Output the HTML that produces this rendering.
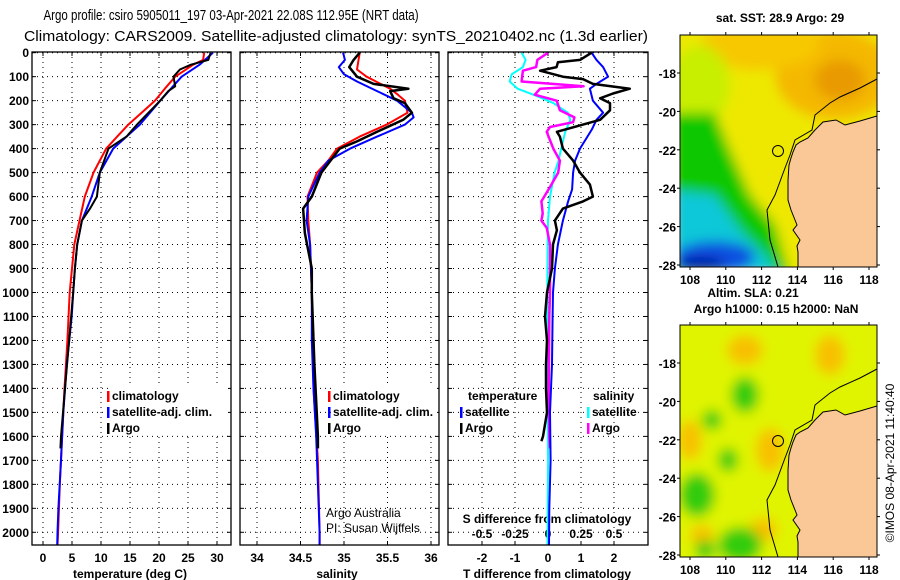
<!DOCTYPE html>
<html><head><meta charset="utf-8">
<style>
html,body{margin:0;padding:0;background:#fff;}
svg{display:block;font-family:"Liberation Sans",sans-serif;}
.b{font-weight:bold;font-size:12px;}
.n{font-size:12px;}
</style></head>
<body>
<svg id="chart" width="900" height="580" viewBox="0 0 900 580" xmlns="http://www.w3.org/2000/svg">
<text transform="translate(231,20) scale(0.77,1)" x="0" y="0" font-size="15" text-anchor="middle">Argo profile: csiro 5905011_197 03-Apr-2021 22.08S 112.95E (NRT data)</text>
<text x="336" y="41" font-size="15" text-anchor="middle" textLength="624" lengthAdjust="spacingAndGlyphs">Climatology: CARS2009. Satellite-adjusted climatology: synTS_20210402.nc (1.3d earlier)</text>
<g id="plots"></g>
<g id="maps"></g>
</svg>
<script>
// ---------- data ----------
const depthTicks=[0,100,200,300,400,500,600,700,800,900,1000,1100,1200,1300,1400,1500,1600,1700,1800,1900,2000];
const tempTicks=[0,5,10,15,20,25,30];
const salTicks=[34,34.5,35,35.5,36];
const salTickLabels=["34","34.5","35","35.5","36"];
const dTTicks=[-2,-1,0,1,2];
const dSTicks=[-0.5,-0.25,0,0.25,0.5];
const dSTickLabels=["-0.5","-0.25","0","0.25","0.5"];

const climTDepth=[0,30,50,100,150,200,250,300,350,400,450,500,600,700,800,900,1000,1200,1400,1600,1800,2000,2055];
const climT=[27.8,27.6,25.9,22.8,21,19.3,17,14.7,12.8,10.9,9.8,8.7,7.2,6.3,5.4,5.0,4.6,4.2,3.7,3.3,2.9,2.6,2.5];
const satTDepth=[0,50,100,200,300,400,500,600,700,800,900,1000,1100,1300,1500,1700,1900,2000,2055];
const satT=[29.3,27,23.9,20.2,16.7,12.1,9.8,8.4,6.7,5.9,5.5,5.2,4.95,4.1,3.5,3.1,2.65,2.5,2.45];
const argoTDepth=[0,30,50,70,100,140,160,200,300,350,400,500,600,650,700,800,900,1000,1200,1400,1600,1650];
const argoT=[28.9,28.5,25.5,23.6,22.5,22.8,21.6,20.2,16.2,14.4,11.3,9.8,9.3,8.1,6.7,5.9,5.5,5.2,4.5,3.8,3.1,3.0];

const climSDepth=[0,70,100,150,175,200,250,300,350,400,450,500,600,700,800,1000,1400,1700,2000,2055];
const climS=[35.18,35.15,35.26,35.53,35.62,35.70,35.73,35.49,35.18,34.92,34.82,34.69,34.58,34.59,34.61,34.63,34.65,34.70,34.72,34.72];
const satSDepth=[0,30,60,90,120,160,200,250,270,300,350,400,450,500,600,700,800,1000,1200,1400,1600,1800,2000,2055];
const satS=[34.99,35.01,34.94,35.0,35.15,35.38,35.61,35.78,35.80,35.70,35.38,35.07,34.82,34.72,34.59,34.57,34.61,34.63,34.63,34.65,34.68,34.70,34.72,34.72];
const argoSDepth=[0,30,60,100,130,150,160,190,210,250,280,330,370,400,500,600,650,700,750,790,900,1000,1300,1600,1650];
const argoS=[35.18,35.11,35.06,35.15,35.34,35.74,35.53,35.57,35.70,35.78,35.68,35.38,35.15,34.95,34.74,34.63,34.53,34.54,34.55,34.57,34.63,34.63,34.66,34.70,34.70];

const dTArgoDepth=[0,30,40,60,75,100,110,130,150,170,190,210,240,280,300,330,350,400,450,500,550,600,620,650,700,740,800,900,1000,1100,1200,1300,1400,1500,1600,1620];
const dTArgo=[1.32,0.97,0.3,0.26,-0.24,0.45,1.06,1.36,2.48,1.97,1.58,1.88,1.88,1.58,1.06,0.27,0.36,0.45,0.76,0.97,1.27,1.36,1.06,0.45,0.21,0.27,0.15,0.12,-0.03,-0.09,-0.03,-0.06,-0.06,-0.03,-0.15,-0.2];
const dTSatDepth=[0,30,60,100,130,150,200,250,280,320,400,450,500,570,620,700,800,900,1000,1100,1300,1500,1700,1900,2055];
const dTSat=[1.32,1.47,1.67,1.82,1.47,1.27,1.36,1.67,1.47,1.33,0.97,0.82,0.76,0.73,0.61,0.45,0.30,0.21,0.15,0.14,0.12,0.06,0.08,0.04,0.03];
const dSSatDepth=[0,30,60,90,120,150,180,210,250,280,330,400,450,500,600,700,800,1000,1500,1700,2055];
const dSSat=[-0.2,-0.17,-0.19,-0.275,-0.29,-0.23,-0.086,0.04,0.15,0.17,0.13,0.10,0.08,0.05,0.015,0.0,-0.003,-0.005,-0.002,0.001,-0.004];
const dSArgoDepth=[0,30,60,75,120,140,150,175,200,240,270,290,310,330,400,450,500,560,620,670,700,730,800,1000,1100,1400,1600,1650];
const dSArgo=[0.0,-0.08,-0.09,-0.19,-0.2,0.27,-0.06,-0.1,0.066,0.09,0.2,0.19,0.015,-0.01,0.04,0.09,0.077,0.015,-0.05,-0.04,-0.05,-0.01,0.015,0.015,0.01,0.005,0.01,0.015];

// ---------- axes ----------
const Y0=52.7, PXM=0.2398;
const yD=d=>Y0+d*PXM;
const xT=t=>43+t*5.8;
const xS=s=>257+(s-34)*87;
const xDT=v=>548+v*33;
const xDS=v=>548+v*132;
const TOP=52, BOT=545;
const panels=[{l:32,r:231},{l:240,r:439},{l:448,r:648}];
const NS="http://www.w3.org/2000/svg";
const plots=document.getElementById('plots');
function mk(tag,attrs,parent){const e=document.createElementNS(NS,tag);for(const k in attrs)e.setAttribute(k,attrs[k]);(parent||plots).appendChild(e);return e;}
function txt(s,x,y,cls,anchor,parent){const t=mk('text',{x:x,y:y,'class':cls||'b','text-anchor':anchor||'middle'},parent);t.textContent=s;return t;}

panels.forEach((p,i)=>{
  const g=mk('g',{});
  
  
  depthTicks.forEach(d=>{
    mk('line',{x1:p.l,x2:p.r,y1:yD(d),y2:yD(d),stroke:'#000','stroke-width':1,'stroke-dasharray':'1,4'},g);
    mk('line',{x1:p.l,x2:p.l+4,y1:yD(d),y2:yD(d),stroke:'#000'},g);
    mk('line',{x1:p.r-4,x2:p.r,y1:yD(d),y2:yD(d),stroke:'#000'},g);
  });
  const xs = i===0?tempTicks.map(xT):i===1?salTicks.map(xS):dTTicks.map(xDT);
  xs.forEach(x=>{
    mk('line',{x1:x,x2:x,y1:TOP,y2:BOT,stroke:'#000','stroke-width':1,'stroke-dasharray':'1,4'},g);
    mk('line',{x1:x,x2:x,y1:TOP,y2:TOP+4,stroke:'#000'},g);
    mk('line',{x1:x,x2:x,y1:BOT-4,y2:BOT,stroke:'#000'},g);
  });
});
depthTicks.forEach(d=>{
  const t=txt(String(d),29,yD(d)+4.5,'b','end');
  
  
});
tempTicks.forEach(v=>{const t=txt(String(v),xT(v),562);
  
  });
salTicks.forEach((v,i)=>{const t=txt(salTickLabels[i],xS(v),562);
  
  });
dTTicks.forEach(v=>{const t=txt(String(v),xDT(v),562);
  
  });
dSTicks.forEach((v,i)=>{const t=txt(dSTickLabels[i],xDS(v),538);
  
  });
let at;
at=txt('temperature (deg C)',130,578);


at=txt('salinity',337,578);


at=txt('T difference from climatology',547,578);


at=txt('S difference from climatology',547,523);



function series(depths,vals,xf,color,name,w,clipId){
  const pts=depths.map((d,i)=>xf(vals[i]).toFixed(1)+','+yD(d).toFixed(1)).join(' ');
  const pl=mk('polyline',{points:pts,fill:'none',stroke:color,'stroke-width':w||2,'stroke-linejoin':'round','clip-path':'url(#'+clipId+')'});
  
  
}
const defs=mk('defs',{});
panels.forEach((p,i)=>{const c=mk('clipPath',{id:'clip'+i},defs);mk('rect',{x:p.l,y:TOP,width:p.r-p.l,height:BOT-TOP},c);});
series(climTDepth,climT,xT,'#ff0000','temperature-climatology-line',2,'clip0');
series(satTDepth,satT,xT,'#0000ff','temperature-satellite-line',2,'clip0');
series(argoTDepth,argoT,xT,'#000','temperature-argo-line',2,'clip0');
series(climSDepth,climS,xS,'#ff0000','salinity-climatology-line',2,'clip1');
series(satSDepth,satS,xS,'#0000ff','salinity-satellite-line',2,'clip1');
series(argoSDepth,argoS,xS,'#000','salinity-argo-line',2.5,'clip1');
series(dSSatDepth,dSSat,xDS,'#00ffff','s-diff-satellite-line',2,'clip2');
series(dSArgoDepth,dSArgo,xDS,'#ff00ff','s-diff-argo-line',2.5,'clip2');
series(dTSatDepth,dTSat,xDT,'#0000ff','t-diff-satellite-line',2,'clip2');
series(dTArgoDepth,dTArgo,xDT,'#000','t-diff-argo-line',2.5,'clip2');

panels.forEach((p,i)=>{const r=mk('rect',{x:p.l,y:TOP,width:p.r-p.l,height:BOT-TOP,fill:'none',stroke:'#000','stroke-width':1.3});
  
  });

function legItem(x,y,color,label,name){
  const g=mk('g',{});
  
  
  mk('rect',{x:x,y:y-9,width:2.5,height:11,fill:color},g);
  txt(label,x+5,y,'b','start',g);
}
function bg(x,y,w,h){mk('rect',{x:x,y:y,width:w,height:h,fill:'#fff'});}
bg(110,385,118,48);
legItem(107,400,'#ff0000','climatology','legend-climatology');
legItem(107,416,'#0000ff','satellite-adj. clim.','legend-satellite-adj');
legItem(107,432,'#000','Argo','legend-argo');
bg(332,385,105,48);
legItem(328,400,'#ff0000','climatology','legend-sal-climatology');
legItem(328,416,'#0000ff','satellite-adj. clim.','legend-sal-satellite-adj');
legItem(328,432,'#000','Argo','legend-sal-argo');
at=txt('temperature',468,400,'b','start');


at=txt('salinity',593,400,'b','start');


legItem(460,416,'#0000ff','satellite','legend-t-satellite');
legItem(460,432,'#000','Argo','legend-t-argo');
legItem(587,416,'#00ffff','satellite','legend-s-satellite');
legItem(587,432,'#ff00ff','Argo','legend-s-argo');
at=txt('Argo Australia',326,517,'n','start');


at=txt('PI: Susan Wijffels',326,532,'n','start');



// ---------- maps ----------
const maps=document.getElementById('maps');
const latTicks=[-18,-20,-22,-24,-26,-28];
const lonTicks=[108,110,112,114,116,118];
const MX0=680,MX1=877;
const xLon=lon=>690+(lon-108)*17.9;
const coast=[[877,116],[860,121],[845,125],[836,120],[823,122],[815,130],[808,138],[800,142],[796,145],[793,152],[791,158],[789,165],[788,180],[788,200],[791,210],[795,220],[797,225],[793,230],[800,240],[797,246],[798,252],[798,267]];
const contour=[[877,79],[860,88],[840,97],[830,103],[815,115],[812,130],[795,140],[790,155],[785,168],[775,195],[767,210],[770,240],[778,267]];
function drawMap(oy,kind){
  const top=35+oy, bot=267+oy;
  const g=mk('g',{},maps);
  
  
  const cid='mclip'+kind;
  const c=mk('clipPath',{id:cid},g);mk('rect',{x:MX0,y:top,width:MX1-MX0,height:bot-top},c);
  const fid='blur'+kind;
  const f=mk('filter',{id:fid,x:'-50%',y:'-50%',width:'200%',height:'200%'},g);
  mk('feGaussianBlur',{stdDeviation:6},f);
  const inner=mk('g',{'clip-path':'url(#'+cid+')'},g);
  const blobs=mk('g',{filter:'url(#'+fid+')'},inner);
  if(kind==='sst'){
    mk('rect',{x:MX0-20,y:top-20,width:240,height:280,fill:'#eee800'},blobs);
    mk('ellipse',{cx:835,cy:top+40,rx:60,ry:45,fill:'#f4b800'},blobs);
    mk('ellipse',{cx:840,cy:top+45,rx:25,ry:20,fill:'#e89a00'},blobs);
    mk('ellipse',{cx:760,cy:top+10,rx:60,ry:25,fill:'#f7c800'},blobs);
    mk('ellipse',{cx:700,cy:top+50,rx:30,ry:40,fill:'#c8ee00'},blobs);
    mk('polygon',{points:(MX0-10)+','+(top+78)+' 715,'+(top+78)+' 730,'+(top+115)+' 750,'+(top+160)+' 775,'+(top+190)+' 790,'+(bot+10)+' '+(MX0-10)+','+(bot+10),fill:'#10c800'},blobs);
    mk('polygon',{points:(MX0-10)+','+(top+155)+' 715,'+(top+160)+' 740,'+(top+195)+' 765,'+(top+220)+' 780,'+(bot+10)+' '+(MX0-10)+','+(bot+10),fill:'#10c8d8'},blobs);
    mk('ellipse',{cx:715,cy:bot-10,rx:40,ry:16,fill:'#1050e0'},blobs);
    mk('ellipse',{cx:700,cy:bot-2,rx:25,ry:8,fill:'#0010a0'},blobs);
  } else {
    mk('rect',{x:MX0-20,y:top-20,width:240,height:280,fill:'#e0f400'},blobs);
    [[745,top+25,18,15],[690,top+115,12,20],[830,top+30,15,20],[770,top+125,14,22],[763,top+205,14,12],[702,top+210,12,10]].forEach(b=>mk('ellipse',{cx:b[0],cy:b[1],rx:b[2],ry:b[3],fill:'#f8c000'},blobs));
    [[745,top+70,14,18],[712,top+95,10,10],[728,top+135,10,12],[697,top+170,18,22],[740,top+220,22,18],[705,top+225,10,10]].forEach(b=>mk('ellipse',{cx:b[0],cy:b[1],rx:b[2],ry:b[3],fill:'#30cc10'},blobs));
  }
  const sh=p=>p.map(q=>q[0]+','+(q[1]+oy)).join(' ');
  mk('polygon',{points:sh(coast)+' 877,'+(bot)+' 877,'+(116+oy),fill:'#fac896',stroke:'#000','stroke-width':1},inner);
  mk('polyline',{points:sh(contour),fill:'none',stroke:'#000','stroke-width':1},inner);
  mk('circle',{cx:778,cy:151+oy,r:5.5,fill:'none',stroke:'#000','stroke-width':1},inner);
  mk('rect',{x:MX0,y:top,width:MX1-MX0,height:bot-top,fill:'none',stroke:'#000','stroke-width':1},g);
  latTicks.forEach(la=>{const y=73+oy+(-18-la)*19.2;
    mk('line',{x1:MX0,x2:MX0-3,y1:y,y2:y,stroke:'#000'},g);
    mk('line',{x1:MX1,x2:MX1+3,y1:y,y2:y,stroke:'#000'},g);
    const t=txt(String(la),676,y+5,'b','end',g);
    
    });
  lonTicks.forEach(lo=>{const x=xLon(lo);
    mk('line',{x1:x,x2:x,y1:top,y2:top-3,stroke:'#000'},g);
    mk('line',{x1:x,x2:x,y1:bot,y2:bot+3,stroke:'#000'},g);
    const t=txt(String(lo),x,bot+17,'b','middle',g);
    
    });
}
drawMap(0,'sst');
drawMap(290,'sla');
at=txt('sat. SST: 28.9 Argo: 29',780,22,'b','middle',maps);


at=txt('Altim. SLA: 0.21',753,297,'b','middle',maps);


at=txt('Argo h1000: 0.15 h2000: NaN',776,313,'b','middle',maps);


at=mk('text',{x:0,y:0,'font-size':12,transform:'translate(894,463) rotate(-90)','text-anchor':'middle'},maps);
at.textContent='©IMOS 08-Apr-2021 11:40:40';


</script>
</body></html>
